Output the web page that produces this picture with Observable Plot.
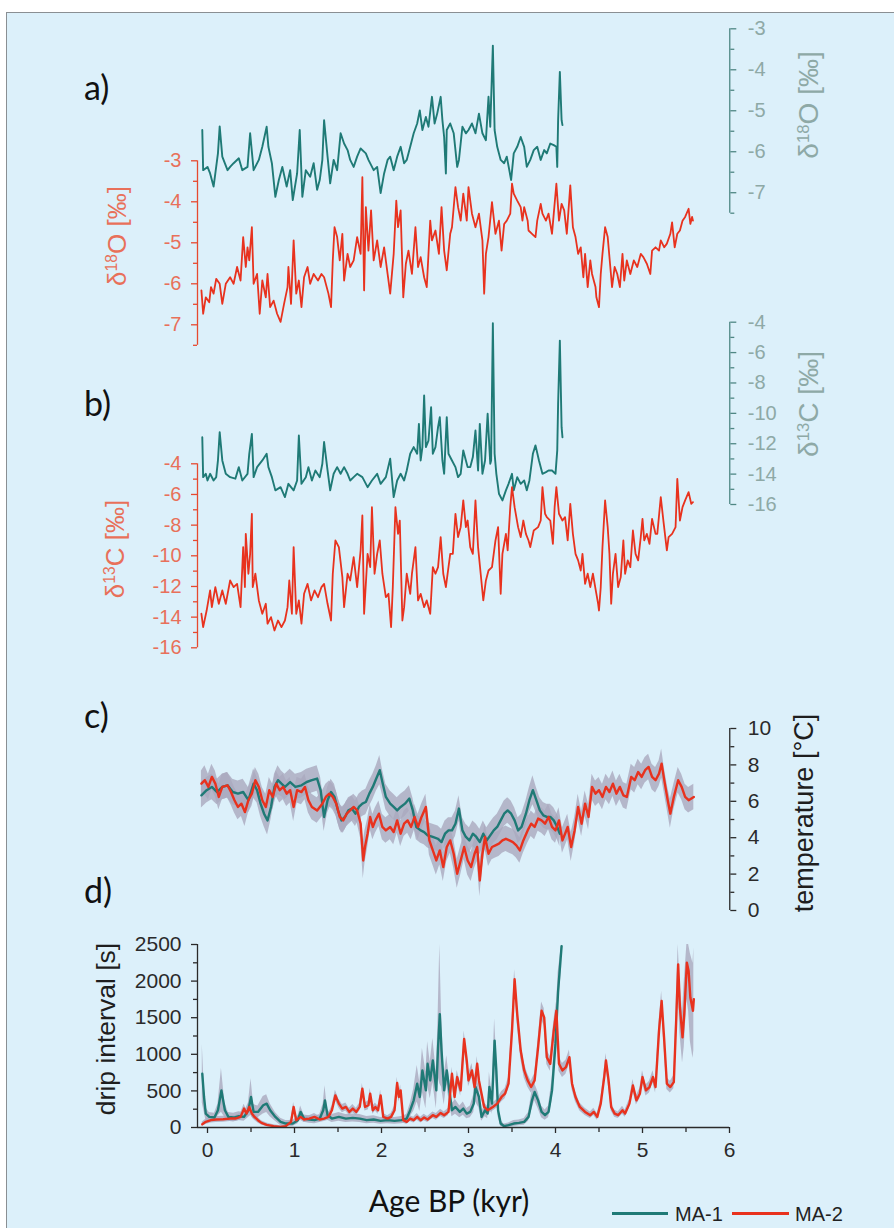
<!DOCTYPE html>
<html><head><meta charset="utf-8">
<script src="https://cdn.jsdelivr.net/npm/d3@7"></script>
<script src="https://cdn.jsdelivr.net/npm/@observablehq/plot@0.6"></script>
<style>
body{margin:0;background:#fff;}
#page{position:relative;width:894px;height:1228px;overflow:hidden;font-family:"Liberation Sans",Arial,sans-serif;}
#frame{position:absolute;left:6px;top:12px;right:0;bottom:0;background:#dcf0fa;border-left:1.5px solid #8a8f93;border-top:1.5px solid #8a8f93;}
.layer{position:absolute;left:0;top:0;}
.plabel{position:absolute;font-family:Lato,"Noto Sans",sans-serif;font-size:34px;color:#111;line-height:1;}
.vlabel{position:absolute;transform:translate(-50%,-50%) rotate(-90deg);white-space:nowrap;font-size:25px;line-height:1;}
.vlabel sup{font-size:0.6em;vertical-align:0.55em;}
.leg{position:absolute;font-size:20px;color:#222;line-height:1;}
.legline{position:absolute;height:2.5px;}
</style></head>
<body><div id="page"><div id="frame"></div></div>
<script>
// ---------- data ----------
const seriesNames = ["MA-1", "MA-2"];
// panel a: δ18O [‰]  [age kyr, value]
const d18O_MA1 = [[-0.06,-5.47],[-0.05,-6.45],[0.00,-6.37],[0.03,-6.53],[0.07,-6.85],[0.09,-6.53],[0.12,-6.04],[0.14,-5.38],[0.17,-6.12],[0.23,-6.45],[0.26,-6.37],[0.30,-6.28],[0.36,-6.16],[0.40,-6.45],[0.46,-6.37],[0.49,-5.55],[0.53,-6.45],[0.59,-6.2],[0.63,-5.88],[0.68,-5.39],[0.70,-5.88],[0.74,-6.28],[0.78,-7.1],[0.82,-6.69],[0.86,-6.37],[0.91,-6.85],[0.95,-6.45],[0.98,-7.18],[1.03,-6.53],[1.06,-5.47],[1.09,-7.1],[1.13,-6.45],[1.18,-6.61],[1.22,-6.28],[1.26,-6.93],[1.29,-6.69],[1.32,-6.2],[1.34,-5.23],[1.38,-6.12],[1.41,-6.77],[1.45,-6.2],[1.49,-6.45],[1.53,-5.55],[1.57,-5.8],[1.61,-5.96],[1.64,-6.2],[1.68,-6.37],[1.72,-6.12],[1.76,-5.92],[1.82,-6.04],[1.85,-6.2],[1.91,-6.45],[1.95,-6.37],[1.99,-7.01],[2.03,-6.53],[2.07,-6.2],[2.10,-6.12],[2.14,-6.45],[2.18,-6.12],[2.22,-5.88],[2.26,-6.28],[2.29,-6.2],[2.33,-5.88],[2.37,-5.55],[2.41,-5.31],[2.44,-4.99],[2.47,-5.47],[2.51,-5.15],[2.54,-5.39],[2.58,-4.66],[2.61,-5.31],[2.64,-5.07],[2.68,-4.66],[2.70,-5.23],[2.72,-5.64],[2.74,-6.53],[2.75,-5.47],[2.79,-5.31],[2.83,-5.55],[2.87,-6.37],[2.89,-6.2],[2.93,-5.39],[2.97,-5.55],[3.00,-5.47],[3.04,-5.31],[3.08,-5.55],[3.12,-5.07],[3.16,-5.55],[3.20,-5.72],[3.23,-4.66],[3.25,-5.39],[3.28,-3.41],[3.30,-5.47],[3.33,-5.88],[3.37,-6.2],[3.41,-6.28],[3.44,-6.12],[3.49,-6.69],[3.52,-6.04],[3.56,-5.88],[3.60,-5.64],[3.64,-5.88],[3.67,-6.37],[3.71,-6.2],[3.75,-5.96],[3.79,-5.88],[3.83,-6.2],[3.87,-5.96],[3.90,-6.04],[3.94,-5.8],[3.98,-5.84],[4.01,-5.88],[4.02,-6.37],[4.03,-5.23],[4.05,-4.05],[4.07,-5.23],[4.08,-5.35]];
const d18O_MA2 = [[-0.07,-6.16],[-0.05,-6.73],[-0.02,-6.33],[0.02,-6.45],[0.04,-6.08],[0.07,-6.24],[0.10,-5.88],[0.14,-6.0],[0.17,-6.49],[0.21,-6.0],[0.26,-5.84],[0.30,-6.0],[0.34,-5.59],[0.38,-5.92],[0.41,-4.86],[0.44,-5.59],[0.46,-5.11],[0.48,-5.43],[0.51,-4.62],[0.53,-6.0],[0.57,-5.76],[0.60,-6.73],[0.63,-5.92],[0.67,-6.33],[0.69,-5.76],[0.72,-6.57],[0.76,-6.41],[0.80,-6.73],[0.84,-6.93],[0.88,-6.49],[0.92,-6.08],[0.93,-5.59],[0.96,-6.49],[0.99,-4.94],[1.02,-6.24],[1.05,-5.92],[1.08,-6.57],[1.11,-5.84],[1.15,-5.59],[1.18,-6.0],[1.22,-5.76],[1.27,-5.92],[1.31,-5.76],[1.34,-5.84],[1.39,-6.24],[1.42,-6.57],[1.44,-5.43],[1.46,-4.62],[1.49,-4.86],[1.52,-5.43],[1.55,-4.78],[1.57,-5.92],[1.61,-5.27],[1.64,-5.59],[1.68,-5.43],[1.72,-4.86],[1.76,-5.27],[1.78,-3.4],[1.80,-6.16],[1.82,-4.13],[1.85,-5.19],[1.88,-4.21],[1.91,-5.43],[1.95,-4.94],[1.99,-5.59],[2.03,-5.11],[2.07,-5.76],[2.10,-6.24],[2.14,-5.27],[2.17,-3.97],[2.19,-4.62],[2.22,-4.21],[2.25,-6.33],[2.28,-5.51],[2.31,-5.19],[2.35,-5.76],[2.39,-4.62],[2.42,-5.59],[2.45,-5.35],[2.49,-5.84],[2.52,-6.08],[2.56,-4.46],[2.58,-4.94],[2.62,-4.7],[2.66,-5.27],[2.69,-4.13],[2.72,-5.19],[2.75,-5.67],[2.79,-4.78],[2.81,-4.62],[2.85,-3.64],[2.88,-4.13],[2.91,-4.46],[2.94,-3.8],[2.98,-4.46],[3.00,-3.64],[3.04,-4.29],[3.08,-4.62],[3.12,-4.29],[3.16,-4.94],[3.18,-6.24],[3.20,-5.27],[3.23,-4.86],[3.27,-4.01],[3.31,-4.78],[3.35,-4.46],[3.38,-5.19],[3.41,-4.54],[3.44,-4.46],[3.48,-4.29],[3.50,-3.56],[3.52,-3.8],[3.56,-3.97],[3.60,-4.13],[3.62,-4.46],[3.64,-4.13],[3.68,-4.46],[3.69,-4.7],[3.73,-4.78],[3.77,-4.86],[3.79,-4.46],[3.83,-4.05],[3.85,-4.29],[3.89,-4.46],[3.92,-4.29],[3.96,-4.78],[3.98,-4.29],[4.01,-3.56],[4.04,-4.46],[4.07,-4.05],[4.10,-4.21],[4.13,-4.78],[4.17,-3.6],[4.20,-4.62],[4.23,-4.86],[4.26,-5.27],[4.29,-5.11],[4.32,-5.84],[4.34,-5.27],[4.37,-6.08],[4.40,-5.43],[4.42,-5.76],[4.46,-6.08],[4.47,-6.33],[4.50,-6.57],[4.52,-5.76],[4.54,-5.27],[4.57,-4.62],[4.60,-4.86],[4.63,-5.59],[4.65,-6.08],[4.68,-5.59],[4.71,-5.76],[4.74,-6.08],[4.77,-5.27],[4.79,-5.92],[4.82,-5.43],[4.86,-5.76],[4.90,-5.43],[4.94,-5.59],[4.98,-5.27],[5.01,-5.35],[5.05,-5.51],[5.09,-5.76],[5.11,-5.19],[5.15,-5.11],[5.19,-5.19],[5.21,-4.94],[5.25,-5.11],[5.28,-5.02],[5.32,-4.78],[5.34,-4.5],[5.37,-5.11],[5.40,-4.78],[5.43,-4.7],[5.46,-4.46],[5.49,-4.37],[5.53,-4.17],[5.55,-4.54],[5.57,-4.37],[5.58,-4.46]];
// panel b: δ13C [‰]
const d13C_MA1 = [[-0.06,-11.57],[-0.05,-14.2],[-0.02,-13.98],[0.00,-14.42],[0.03,-13.98],[0.07,-14.42],[0.10,-14.2],[0.12,-13.1],[0.14,-11.24],[0.17,-13.1],[0.21,-13.98],[0.26,-14.2],[0.32,-14.3],[0.36,-13.54],[0.40,-14.42],[0.46,-13.98],[0.48,-12.66],[0.51,-11.35],[0.53,-14.2],[0.57,-13.54],[0.63,-13.1],[0.68,-12.66],[0.70,-13.54],[0.74,-14.2],[0.78,-15.07],[0.84,-14.86],[0.89,-15.51],[0.93,-14.64],[0.99,-15.07],[1.03,-14.42],[1.05,-11.46],[1.08,-14.64],[1.13,-14.2],[1.16,-13.54],[1.20,-14.42],[1.24,-13.76],[1.29,-14.2],[1.32,-13.32],[1.34,-11.89],[1.38,-13.76],[1.41,-15.07],[1.45,-13.98],[1.49,-13.54],[1.53,-13.98],[1.57,-13.54],[1.61,-13.98],[1.64,-14.42],[1.68,-14.2],[1.72,-13.98],[1.78,-14.2],[1.84,-14.86],[1.89,-14.42],[1.95,-13.98],[1.99,-14.64],[2.05,-14.2],[2.10,-12.99],[2.14,-15.51],[2.18,-14.42],[2.22,-13.98],[2.26,-14.42],[2.29,-13.76],[2.33,-12.66],[2.37,-12.22],[2.41,-12.66],[2.43,-10.69],[2.45,-13.1],[2.47,-12.22],[2.49,-8.82],[2.51,-12.22],[2.54,-11.79],[2.57,-9.6],[2.59,-12.66],[2.62,-12.22],[2.65,-10.91],[2.67,-10.25],[2.70,-13.1],[2.72,-13.98],[2.75,-10.25],[2.77,-12.66],[2.81,-13.1],[2.85,-13.54],[2.88,-14.2],[2.91,-13.98],[2.94,-12.44],[2.97,-13.1],[2.99,-13.54],[3.02,-13.54],[3.05,-12.88],[3.08,-11.13],[3.11,-13.76],[3.13,-10.69],[3.16,-13.98],[3.19,-13.1],[3.22,-10.03],[3.25,-13.32],[3.26,-13.1],[3.28,-4.07],[3.30,-12.66],[3.32,-13.98],[3.35,-15.29],[3.39,-15.73],[3.43,-15.07],[3.46,-14.64],[3.50,-13.98],[3.52,-15.07],[3.56,-14.2],[3.60,-14.64],[3.64,-14.42],[3.67,-15.07],[3.70,-14.42],[3.74,-12.66],[3.77,-12.11],[3.81,-13.1],[3.85,-13.98],[3.89,-13.87],[3.92,-13.76],[3.96,-13.76],[4.00,-13.98],[4.02,-12.44],[4.03,-9.37],[4.05,-5.21],[4.07,-10.91],[4.08,-11.57]];
const d13C_MA2 = [[-0.07,-13.78],[-0.05,-14.65],[-0.01,-13.57],[0.03,-12.26],[0.05,-13.35],[0.09,-12.04],[0.13,-13.13],[0.17,-12.26],[0.21,-13.13],[0.26,-11.61],[0.30,-12.04],[0.34,-11.83],[0.38,-13.35],[0.41,-9.43],[0.43,-12.04],[0.44,-8.57],[0.47,-11.17],[0.49,-9.87],[0.51,-7.26],[0.52,-12.04],[0.55,-11.17],[0.59,-12.91],[0.63,-13.78],[0.67,-13.13],[0.69,-14.43],[0.73,-14.0],[0.77,-14.87],[0.81,-14.22],[0.85,-14.65],[0.89,-14.22],[0.92,-13.35],[0.94,-11.61],[0.97,-13.78],[0.99,-9.43],[1.02,-13.78],[1.05,-12.91],[1.08,-14.43],[1.11,-12.48],[1.15,-11.83],[1.19,-12.91],[1.23,-12.26],[1.27,-12.7],[1.31,-12.04],[1.34,-11.83],[1.38,-13.13],[1.42,-14.22],[1.44,-11.17],[1.47,-9.0],[1.51,-9.43],[1.55,-11.39],[1.57,-13.35],[1.61,-11.17],[1.64,-11.61],[1.68,-10.09],[1.72,-12.04],[1.76,-9.65],[1.78,-7.37],[1.80,-13.78],[1.84,-9.87],[1.87,-10.74],[1.89,-6.83],[1.92,-11.17],[1.95,-9.87],[1.98,-9.0],[2.01,-11.17],[2.05,-12.7],[2.08,-12.48],[2.11,-14.65],[2.13,-12.04],[2.16,-6.83],[2.19,-8.57],[2.21,-7.7],[2.24,-14.22],[2.26,-13.35],[2.29,-11.17],[2.33,-12.48],[2.35,-11.17],[2.39,-9.43],[2.42,-12.91],[2.45,-12.48],[2.49,-13.35],[2.52,-12.91],[2.56,-13.78],[2.59,-10.74],[2.62,-11.17],[2.65,-10.74],[2.68,-8.78],[2.71,-11.17],[2.74,-12.04],[2.76,-11.17],[2.79,-9.87],[2.82,-9.87],[2.85,-7.26],[2.88,-8.78],[2.91,-8.13],[2.94,-6.39],[2.97,-8.13],[2.99,-7.7],[3.02,-9.43],[3.05,-9.87],[3.08,-6.39],[3.11,-9.43],[3.14,-11.17],[3.17,-12.91],[3.20,-11.61],[3.23,-10.96],[3.27,-10.74],[3.31,-9.0],[3.34,-8.13],[3.37,-12.48],[3.39,-9.87],[3.43,-8.57],[3.45,-9.65],[3.48,-6.83],[3.50,-5.52],[3.53,-6.83],[3.57,-8.13],[3.60,-8.78],[3.63,-7.7],[3.66,-8.57],[3.69,-9.0],[3.71,-9.43],[3.75,-8.35],[3.80,-8.13],[3.83,-7.7],[3.85,-5.52],[3.88,-7.26],[3.90,-7.48],[3.94,-7.7],[3.97,-9.22],[3.99,-6.83],[4.01,-5.52],[4.04,-7.26],[4.08,-7.7],[4.11,-7.48],[4.14,-9.0],[4.17,-6.61],[4.20,-8.57],[4.23,-9.87],[4.26,-10.3],[4.29,-10.96],[4.31,-9.87],[4.34,-11.83],[4.37,-11.17],[4.40,-12.04],[4.43,-11.17],[4.47,-12.48],[4.49,-13.13],[4.50,-13.57],[4.52,-12.04],[4.54,-9.43],[4.57,-6.39],[4.60,-8.13],[4.62,-9.87],[4.64,-13.13],[4.66,-11.17],[4.69,-9.87],[4.72,-12.04],[4.75,-11.39],[4.78,-9.0],[4.80,-11.17],[4.83,-10.3],[4.86,-10.74],[4.89,-8.35],[4.92,-9.87],[4.95,-10.3],[4.98,-8.78],[5.00,-7.59],[5.02,-9.0],[5.05,-8.57],[5.08,-9.22],[5.11,-7.59],[5.15,-8.57],[5.17,-8.57],[5.21,-6.17],[5.24,-7.7],[5.28,-9.65],[5.30,-8.78],[5.34,-8.57],[5.38,-8.13],[5.40,-4.98],[5.43,-7.7],[5.46,-6.83],[5.49,-6.39],[5.53,-5.85],[5.56,-6.61],[5.58,-6.5]];
// panel c: temperature [°C]  [age, value, ±uncertainty]
const temp_MA1 = [[-0.07,6.33,0.7],[-0.01,6.61,0.7],[0.05,6.79,0.7],[0.11,6.51,0.7],[0.17,6.79,0.7],[0.23,6.88,0.7],[0.29,6.51,0.7],[0.35,6.42,0.7],[0.41,6.51,0.7],[0.47,6.06,0.7],[0.53,6.97,0.8],[0.57,6.61,0.7],[0.61,5.87,0.7],[0.65,5.32,0.7],[0.69,4.95,0.8],[0.73,5.69,0.7],[0.77,6.79,0.7],[0.81,7.16,0.8],[0.85,6.97,0.7],[0.89,6.79,0.7],[0.95,7.06,0.7],[1.01,6.79,0.7],[1.08,6.88,0.7],[1.14,7.06,0.7],[1.20,7.16,0.7],[1.26,7.25,0.7],[1.30,6.61,0.7],[1.34,5.14,0.8],[1.38,6.06,0.7],[1.42,6.51,0.7],[1.46,6.24,0.7],[1.50,5.5,0.7],[1.54,4.95,0.7],[1.58,5.14,0.7],[1.62,5.5,0.7],[1.66,5.6,0.7],[1.70,5.32,0.7],[1.74,5.69,0.7],[1.78,5.87,0.7],[1.82,5.96,0.7],[1.86,6.42,0.7],[1.90,6.79,0.7],[1.94,7.25,0.7],[1.98,7.71,0.8],[2.01,7.06,0.7],[2.05,6.24,0.7],[2.10,5.87,0.7],[2.14,5.69,0.7],[2.18,5.5,0.7],[2.22,5.69,0.7],[2.27,5.87,0.7],[2.32,6.15,0.7],[2.36,5.5,0.7],[2.40,4.59,0.7],[2.45,4.4,0.7],[2.49,4.31,0.7],[2.53,4.13,0.7],[2.59,4.04,0.7],[2.65,3.94,0.7],[2.69,3.76,0.7],[2.73,4.22,0.7],[2.77,4.4,0.7],[2.81,4.4,0.7],[2.85,4.77,0.7],[2.89,5.6,0.7],[2.93,4.4,0.7],[2.97,4.04,0.7],[3.01,3.85,0.7],[3.05,4.22,0.7],[3.09,4.04,0.7],[3.13,3.76,0.7],[3.17,4.22,0.7],[3.21,3.85,0.7],[3.25,4.13,0.7],[3.29,4.4,0.7],[3.33,4.59,0.7],[3.37,4.95,0.7],[3.41,5.32,0.7],[3.45,5.5,0.7],[3.49,5.32,0.7],[3.53,4.95,0.7],[3.57,4.4,0.7],[3.61,4.59,0.7],[3.66,5.32,0.7],[3.70,6.06,0.7],[3.74,6.61,0.8],[3.78,6.06,0.7],[3.82,5.5,0.7],[3.86,5.23,0.7],[3.90,5.14,0.7],[3.94,5.14,0.7],[3.98,4.95,0.7],[4.02,4.59,0.7],[4.05,4.22,0.7]];
const temp_MA2 = [[-0.07,6.97,0.7],[-0.03,7.16,0.8],[0.01,6.79,0.7],[0.05,7.34,0.7],[0.09,6.97,0.7],[0.13,6.24,0.7],[0.17,6.79,0.7],[0.23,6.88,0.7],[0.27,6.51,0.7],[0.31,6.06,0.7],[0.35,5.69,0.7],[0.39,5.87,0.7],[0.43,5.41,0.8],[0.47,6.06,0.7],[0.51,6.42,0.7],[0.55,7.16,0.7],[0.59,6.79,0.7],[0.63,6.06,0.7],[0.67,5.69,0.7],[0.71,6.61,0.7],[0.75,6.24,0.7],[0.79,6.97,0.7],[0.83,6.61,0.7],[0.87,6.79,0.7],[0.91,6.42,0.7],[0.95,6.61,0.7],[0.99,5.69,0.8],[1.03,6.61,0.7],[1.08,6.51,0.7],[1.12,6.79,0.7],[1.16,6.06,0.7],[1.20,5.69,0.7],[1.26,5.5,0.7],[1.32,5.87,0.7],[1.36,6.24,0.7],[1.40,6.42,0.7],[1.44,6.24,0.7],[1.48,5.87,0.7],[1.52,5.14,0.7],[1.56,4.95,0.7],[1.60,5.32,0.7],[1.64,5.5,0.7],[1.68,5.69,0.7],[1.72,5.5,0.7],[1.76,4.77,0.8],[1.79,2.75,1.0],[1.81,3.49,0.9],[1.84,4.22,0.8],[1.87,5.14,0.7],[1.90,4.59,0.7],[1.93,4.95,0.7],[1.97,5.32,0.7],[2.01,4.59,0.7],[2.05,4.4,0.7],[2.10,4.59,0.7],[2.14,4.31,0.7],[2.18,4.95,0.7],[2.22,4.22,0.7],[2.26,4.77,0.7],[2.30,4.95,0.7],[2.34,4.59,0.7],[2.38,5.14,0.7],[2.42,4.59,0.7],[2.46,5.14,0.7],[2.51,5.69,0.7],[2.55,3.85,0.8],[2.59,3.3,0.8],[2.63,2.75,0.8],[2.67,3.3,0.8],[2.71,2.39,0.8],[2.75,3.49,0.8],[2.79,3.85,0.7],[2.83,3.12,0.8],[2.87,2.02,0.8],[2.91,2.75,0.8],[2.95,3.49,0.7],[2.99,2.75,0.8],[3.03,2.39,0.8],[3.07,3.12,0.8],[3.10,3.49,0.8],[3.13,1.65,0.9],[3.16,3.12,0.8],[3.19,4.04,0.7],[3.23,3.12,0.7],[3.27,3.49,0.7],[3.31,3.58,0.7],[3.35,3.67,0.7],[3.39,3.85,0.7],[3.43,3.94,0.7],[3.47,3.85,0.7],[3.51,3.76,0.7],[3.55,3.58,0.7],[3.59,3.3,0.7],[3.63,3.85,0.7],[3.68,4.4,0.7],[3.72,4.77,0.7],[3.76,4.59,0.7],[3.80,5.05,0.7],[3.84,4.95,0.7],[3.88,4.77,0.7],[3.92,5.14,0.7],[3.96,4.59,0.7],[4.00,4.4,0.7],[4.04,4.95,0.7],[4.08,3.85,0.7],[4.11,4.22,0.7],[4.14,4.59,0.7],[4.18,3.49,0.8],[4.22,4.4,0.7],[4.26,5.69,0.7],[4.30,4.77,0.7],[4.34,5.87,0.7],[4.38,5.14,0.7],[4.42,6.79,0.7],[4.46,6.42,0.7],[4.50,6.61,0.7],[4.54,6.24,0.7],[4.58,6.79,0.7],[4.62,6.51,0.7],[4.66,6.97,0.7],[4.70,6.42,0.7],[4.74,6.79,0.7],[4.78,6.33,0.7],[4.82,6.24,0.7],[4.87,7.34,0.7],[4.91,7.16,0.7],[4.95,7.61,0.7],[4.99,7.34,0.7],[5.03,7.71,0.7],[5.07,7.89,0.7],[5.11,7.34,0.7],[5.15,7.16,0.7],[5.19,7.52,0.7],[5.22,8.07,0.8],[5.25,7.16,0.7],[5.29,6.06,0.7],[5.32,5.32,0.8],[5.36,6.24,0.7],[5.41,7.16,0.7],[5.45,6.79,0.7],[5.49,6.24,0.7],[5.53,6.06,0.7],[5.59,6.24,0.7]];
// panel d: drip interval [s]  [age, value, ±uncertainty]
const drip_MA1 = [[-0.06,734,400],[-0.04,417,200],[-0.02,190,80],[0.02,145,60],[0.08,136,60],[0.12,236,80],[0.16,507,300],[0.20,236,100],[0.24,145,60],[0.30,136,60],[0.36,154,60],[0.42,145,60],[0.47,236,100],[0.50,417,250],[0.53,213,100],[0.58,213,80],[0.64,304,120],[0.68,326,120],[0.72,236,90],[0.78,145,60],[0.84,77,50],[0.90,54,40],[0.98,54,40],[1.04,100,50],[1.07,213,80],[1.11,122,50],[1.17,109,50],[1.23,100,50],[1.29,122,55],[1.33,236,90],[1.35,371,200],[1.38,168,70],[1.43,122,55],[1.51,145,60],[1.59,122,55],[1.67,131,55],[1.75,122,55],[1.83,100,50],[1.91,109,50],[1.99,91,45],[2.07,100,50],[2.15,91,45],[2.23,100,50],[2.29,122,55],[2.33,236,90],[2.37,371,150],[2.41,598,250],[2.44,417,200],[2.47,779,300],[2.51,507,250],[2.53,870,300],[2.56,643,250],[2.59,915,300],[2.63,507,250],[2.65,1096,400],[2.67,1549,950],[2.69,1051,500],[2.72,507,200],[2.75,779,200],[2.79,417,150],[2.81,236,90],[2.85,281,100],[2.90,213,80],[2.94,258,90],[2.98,190,70],[3.02,213,80],[3.06,326,120],[3.08,553,200],[3.12,417,150],[3.15,145,60],[3.19,236,90],[3.22,190,70],[3.24,553,200],[3.27,326,150],[3.30,1187,300],[3.32,779,250],[3.34,236,90],[3.37,54,40],[3.41,18,30],[3.46,32,30],[3.52,54,40],[3.58,63,40],[3.64,77,45],[3.69,145,60],[3.73,371,120],[3.76,485,120],[3.80,371,110],[3.84,213,80],[3.88,168,70],[3.92,213,80],[3.96,507,150],[4.00,1142,200],[4.03,1866,250],[4.07,2478,300]];
const drip_MA2 = [[-0.06,45,30],[-0.02,77,35],[0.04,100,40],[0.10,109,40],[0.18,113,40],[0.26,122,40],[0.32,122,40],[0.38,145,45],[0.42,258,60],[0.45,190,50],[0.48,281,60],[0.51,190,50],[0.54,145,45],[0.58,100,40],[0.62,63,30],[0.68,36,25],[0.76,18,20],[0.84,9,15],[0.90,18,20],[0.96,77,35],[0.99,281,60],[1.02,100,40],[1.07,145,45],[1.11,109,40],[1.17,122,40],[1.23,145,45],[1.29,109,40],[1.34,122,40],[1.39,145,45],[1.43,236,55],[1.47,439,70],[1.51,326,60],[1.55,258,55],[1.59,281,55],[1.63,213,50],[1.67,258,55],[1.71,213,50],[1.75,281,55],[1.78,530,70],[1.81,281,55],[1.85,304,60],[1.87,462,70],[1.90,236,55],[1.93,281,55],[1.96,236,55],[1.99,439,70],[2.02,145,45],[2.07,122,40],[2.11,145,45],[2.15,236,55],[2.18,607,80],[2.20,417,70],[2.22,507,75],[2.25,100,40],[2.29,77,35],[2.33,122,40],[2.37,100,40],[2.41,145,45],[2.45,100,40],[2.49,136,45],[2.53,109,40],[2.59,168,45],[2.63,145,45],[2.68,199,50],[2.72,168,45],[2.77,213,50],[2.81,734,90],[2.84,417,70],[2.87,689,90],[2.91,507,75],[2.95,1210,110],[2.98,915,100],[3.00,643,85],[3.04,779,95],[3.07,553,80],[3.10,870,100],[3.12,643,85],[3.15,462,70],[3.18,281,55],[3.22,236,55],[3.28,281,55],[3.33,326,60],[3.38,417,70],[3.42,462,70],[3.46,598,80],[3.50,1323,120],[3.53,2025,130],[3.56,1549,130],[3.60,1051,110],[3.64,779,100],[3.68,643,90],[3.72,553,80],[3.76,643,90],[3.80,1096,110],[3.84,1595,120],[3.87,1504,120],[3.90,960,100],[3.94,870,100],[3.98,1323,120],[4.01,1595,120],[4.04,870,100],[4.08,779,95],[4.12,824,95],[4.16,960,100],[4.19,598,80],[4.23,417,70],[4.28,281,55],[4.34,213,50],[4.40,168,45],[4.44,213,50],[4.48,145,45],[4.52,326,60],[4.56,689,85],[4.58,915,95],[4.61,643,85],[4.64,281,55],[4.68,190,50],[4.72,168,45],[4.77,236,55],[4.80,190,50],[4.85,326,60],[4.89,575,80],[4.93,371,65],[4.97,462,70],[5.00,689,85],[5.04,507,75],[5.08,553,80],[5.12,689,85],[5.15,553,80],[5.19,1323,120],[5.22,1730,130],[5.25,1187,120],[5.28,598,80],[5.32,553,80],[5.36,620,90],[5.39,1549,250],[5.41,2229,350],[5.43,1640,350],[5.46,1232,350],[5.48,1549,450],[5.51,2251,500],[5.53,2138,550],[5.55,1776,600],[5.58,1595,650],[5.59,1753,700]];
// tick values
const ageTicks = [0,1,2,3,4,5,6];
const ageMinor = [0.5,1.5,2.5,3.5,4.5,5.5];
const d18OTicks = [-3,-4,-5,-6,-7];
const d18OMinor = [-3.5,-4.5,-5.5,-6.5,-7.5];
const d13CTicks = [-4,-6,-8,-10,-12,-14,-16];
const d13CMinor = [-5,-7,-9,-11,-13,-15];
const tempTicks = [0,2,4,6,8,10];
const tempMinor = [1,3,5,7,9];
const dripTicks = [0,500,1000,1500,2000,2500];
const dripMinor = [250,750,1250,1750,2250];

// ---------- styling ----------
const TEAL = "#1f7a76", RED = "#e8321e";
const TEAL_AX = "#4f8784", TEAL_TXT = "#8ea9a6";
const RED_AX = "#e6492f", RED_TXT = "#e8705a";
const DARK = "#2a2a2a";
const BAND = "#aaa9be";
const W = 894, H = 1228;
const X = {domain: [-0.115, 6], range: [197, 729]};
const fmt = d => String(d);
const page = document.getElementById("page");

function layer(y, marks) {
  const svg = Plot.plot({
    width: W, height: H,
    marginLeft: 197, marginRight: W - 729.3, marginTop: 0, marginBottom: H - 1127,
    x: {...X, axis: null}, y: {...y, axis: null},
    style: {background: "transparent", overflow: "visible"},
    marks
  });
  svg.classList.add("layer");
  page.appendChild(svg);
}
function yAxis(anchor, major, minor, lo, hi, axColor, txtColor, fs) {
  const ax = anchor === "left" ? -0.115 : 6.003;
  return [
    Plot.ruleX([ax], {y1: lo, y2: hi, stroke: axColor, strokeWidth: 1.3}),
    Plot.axisY(major, {anchor, tickSize: 6, tickFormat: () => "", stroke: axColor, strokeWidth: 1.3}),
    Plot.axisY(minor, {anchor, tickSize: 4, tickFormat: () => "", stroke: axColor, strokeWidth: 1.3}),
    Plot.axisY(major, {anchor, tickSize: 0, tickPadding: anchor === "left" ? 16 : 18, tickFormat: fmt, fill: txtColor, color: txtColor, fontSize: fs, fontFamily: "Liberation Sans, Arial, sans-serif"})
  ];
}
const line = (data, stroke, w) => Plot.line(data, {x: d => d[0], y: d => d[1], stroke, strokeWidth: w, strokeLinejoin: "round"});
const band = (data, lo, hi) => Plot.areaY(data, {x: d => d[0], y1: d => Math.max(lo, d[1] - d[2]), y2: d => Math.min(hi, d[1] + d[2]), fill: BAND, fillOpacity: 0.8});

// panel a
layer({domain: [-7.5, -3], range: [212.7, 28.3]}, [
  ...yAxis("right", d18OTicks, d18OMinor, -7.5, -3, TEAL_AX, TEAL_TXT, 20),
  line(d18O_MA1, TEAL, 1.9)
]);
layer({domain: [-7.5, -3], range: [344.8, 160.3]}, [
  ...yAxis("left", d18OTicks, d18OMinor, -7.5, -3, RED_AX, RED_TXT, 20),
  line(d18O_MA2, RED, 1.8)
]);
// panel b
layer({domain: [-16, -4], range: [504, 321.7]}, [
  ...yAxis("right", d13CTicks, d13CMinor, -16, -4, TEAL_AX, TEAL_TXT, 20),
  line(d13C_MA1, TEAL, 1.9)
]);
layer({domain: [-16, -4], range: [647.3, 463.3]}, [
  ...yAxis("left", d13CTicks, d13CMinor, -16, -4, RED_AX, RED_TXT, 20),
  line(d13C_MA2, RED, 1.8)
]);
// panel c
layer({domain: [0, 10], range: [910, 728]}, [
  band(temp_MA1, 0, 10), band(temp_MA2, 0, 10),
  line(temp_MA1, TEAL, 2.4), line(temp_MA2, RED, 2.4),
  ...yAxis("right", tempTicks, tempMinor, 0, 10, DARK, DARK, 21)
]);
// panel d
layer({domain: [0, 2500], range: [1127, 944]}, [
  band(drip_MA1, 0, 2500), band(drip_MA2, 0, 2500),
  line(drip_MA1, TEAL, 2.4), line(drip_MA2, RED, 2.4),
  ...yAxis("left", dripTicks, dripMinor, 0, 2500, DARK, DARK, 21),
  Plot.ruleY([0], {x1: -0.115, x2: 6, stroke: DARK, strokeWidth: 1.3}),
  Plot.axisX(ageTicks, {anchor: "bottom", tickSize: 6, tickPadding: 9, tickFormat: fmt, stroke: DARK, color: DARK, fontSize: 21, fontFamily: "Liberation Sans, Arial, sans-serif", strokeWidth: 1.3}),
  Plot.axisX(ageMinor, {anchor: "bottom", tickSize: 5, tickFormat: () => "", stroke: DARK, strokeWidth: 1.3})
]);

// ---------- text ----------
function addDiv(cls, html, style) {
  const d = document.createElement("div");
  d.className = cls; d.innerHTML = html; Object.assign(d.style, style); page.appendChild(d); return d;
}
addDiv("plabel", "a)", {left: "84px", top: "70px"});
addDiv("plabel", "b)", {left: "84px", top: "386px"});
addDiv("plabel", "c)", {left: "84px", top: "698px"});
addDiv("plabel", "d)", {left: "84px", top: "873px"});
addDiv("vlabel", "δ<sup>18</sup>O [‰]", {left: "117px", top: "236px", color: RED_TXT, fontSize: "26px"});
addDiv("vlabel", "δ<sup>13</sup>C [‰]", {left: "115px", top: "549px", color: RED_TXT, fontSize: "26px"});
addDiv("vlabel", "δ<sup>18</sup>O [‰]", {left: "809px", top: "105px", color: TEAL_TXT, fontSize: "28px"});
addDiv("vlabel", "δ<sup>13</sup>C [‰]", {left: "809px", top: "404px", color: TEAL_TXT, fontSize: "28px"});
addDiv("vlabel", "temperature [°C]", {left: "804px", top: "813px", color: "#1e1e1e", fontSize: "27px"});
addDiv("vlabel", "drip interval [s]", {left: "106px", top: "1029px", color: "#1e1e1e", fontSize: "26.5px"});
addDiv("plabel", "Age BP (kyr)", {left: "449px", top: "1185px", transform: "translateX(-50%)", fontSize: "30px", whiteSpace: "nowrap"});
// legend
addDiv("legline", "", {left: "612px", top: "1212px", width: "56px", background: TEAL});
addDiv("leg", seriesNames[0], {left: "675px", top: "1204px"});
addDiv("legline", "", {left: "732px", top: "1212px", width: "57px", background: RED});
addDiv("leg", seriesNames[1], {left: "795px", top: "1204px"});
</script>
</body></html>
